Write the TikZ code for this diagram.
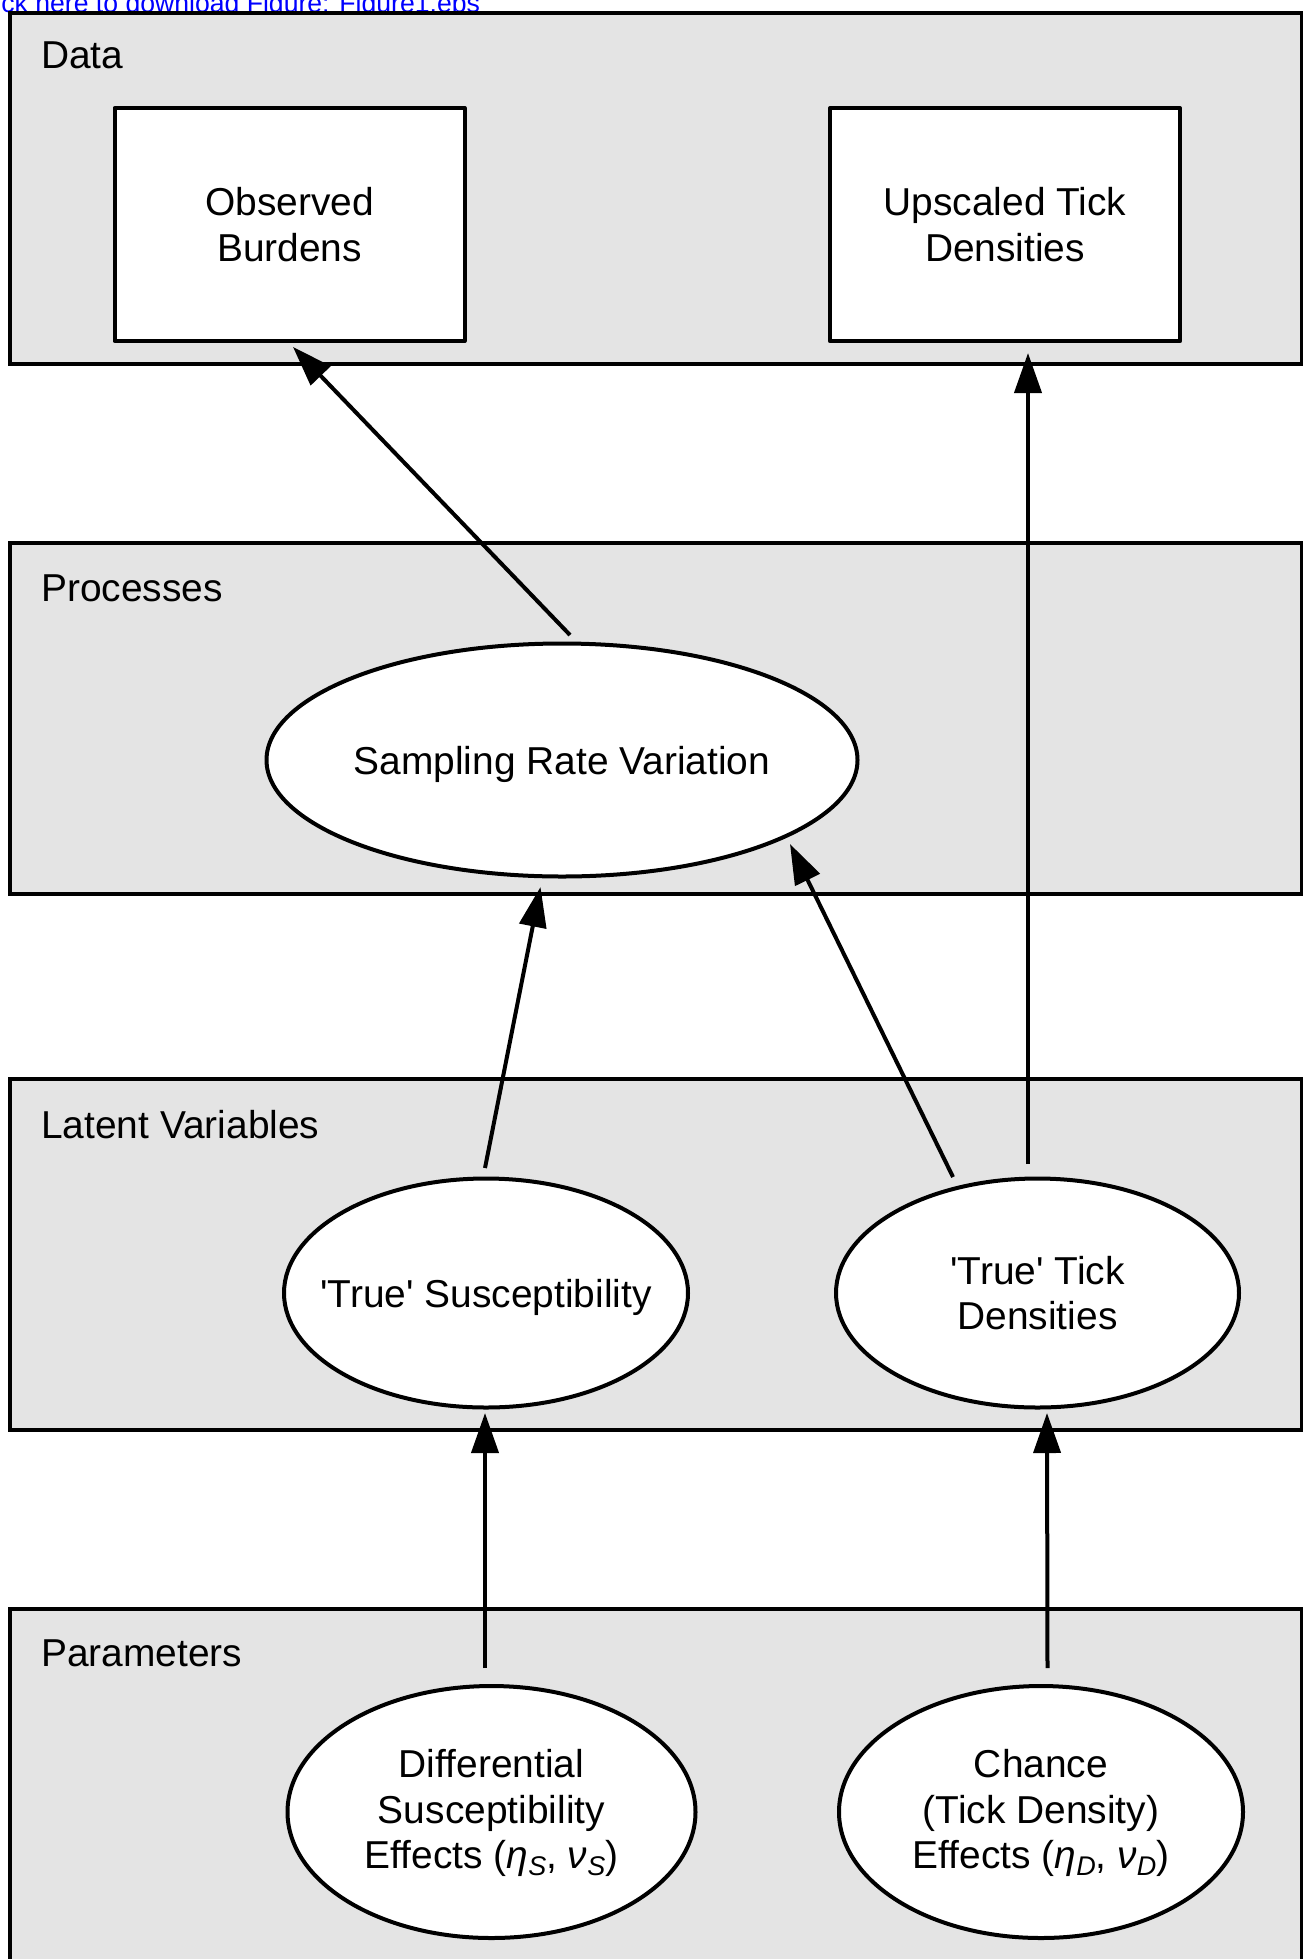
\documentclass[tikz,border=0pt]{standalone}
\usepackage{fontspec}
\setmainfont{Liberation Sans}
\usetikzlibrary{shapes.geometric,arrows.meta}
\definecolor{panelgray}{RGB}{228,228,228}
\definecolor{linkblue}{RGB}{0,0,255}
\newcommand{\diagfont}{\fontsize{38.9}{45.5}\selectfont}
\newcommand{\linkfont}{\fontsize{26.6}{30}\selectfont}
\newcommand{\sq}{\textquotesingle}
\newcommand{\lowsub}[1]{\raisebox{-7pt}{\fontsize{27}{30}\selectfont\itshape #1}}
\begin{document}
\begin{tikzpicture}[x=1pt,y=-1pt,
  panel/.style={draw=black,fill=panelgray,line width=4pt},
  plabel/.style={anchor=base west,inner sep=0pt,font=\diagfont},
  databox/.style={draw,fill=white,line width=4pt,line join=round,minimum width=350pt,minimum height=233pt,inner sep=0pt,align=center,font=\diagfont},
  ell/.style={draw,fill=white,ellipse,line width=4pt,inner sep=0pt},
  etext/.style={align=center,inner sep=0pt,font=\diagfont},
  arr/.style={line width=4pt,-{Triangle[length=40pt,width=27pt]}}
]
\useasboundingbox (0,0) rectangle (1303,1959);
\clip (0,0) rectangle (1303,1959);
\fill[white] (0,0) rectangle (1303,1959);

% link text
\node[anchor=base west,inner sep=0pt,font=\linkfont,text=linkblue] (link) at (1.2,12.5) {ck here to download Figure: Figure1.eps};

% panels
\draw[panel] (10,13) rectangle (1302,363.5);
\draw[panel] (10,543) rectangle (1302,894);
\draw[panel] (10,1079) rectangle (1302,1430);
\draw[panel] (10,1609) rectangle (1302,1985);

\node[plabel] (lData) at (41,69) {Data};
\node[plabel] (lProc) at (41,601) {Processes};
\node[plabel] (lLat) at (41,1138) {Latent Variables};
\node[plabel] (lPar) at (41,1666) {Parameters};

% data boxes
\node[databox] (obs) at (289.5,224.5) {Observed\\Burdens};
\node[databox] (upt) at (1005,224.7) {Upscaled Tick\\Densities};

% ellipses
\node[ell,minimum width=591pt,minimum height=233pt] (srv) at (562,760) {};
\node[etext] (srvt) at ([yshift=-4pt]srv.center) {Sampling Rate Variation};

\node[ell,minimum width=404pt,minimum height=229pt] (tsus) at (486,1293) {};
\node[etext] (tsust) at ([yshift=-4pt]tsus.center) {\sq True\sq{} Susceptibility};

\node[ell,minimum width=403pt,minimum height=229pt] (tden) at (1037.5,1293) {};
\node[etext] (tdent) at (tden) {\sq True\sq{} Tick\\Densities};

\node[ell,minimum width=408pt,minimum height=252pt] (dse) at (491.5,1812) {};
\node[etext] (dset) at ([yshift=-1pt]dse.center) {Differential\\Susceptibility\\Effects ({\itshape η}\lowsub{S}, {\itshape ν}\lowsub{S})};

\node[ell,minimum width=404pt,minimum height=252pt] (chn) at (1041,1812) {};
\node[etext] (chnt) at ([yshift=-1pt]chn.center) {Chance\\(Tick Density)\\Effects ({\itshape η}\lowsub{D}, {\itshape ν}\lowsub{D})};

% arrows
\draw[arr] ([xshift=8pt,yshift=6.5pt]srv.north) -- ([xshift=3.5pt,yshift=-4pt]obs.south);
\draw[arr] ([xshift=-9.5pt,yshift=12.5pt]tden.north) -- ([xshift=23pt,yshift=-9.8pt]upt.south);
\draw[arr] ([xshift=-84.5pt,yshift=-0.5pt]tden.north) -- ([xshift=228pt,yshift=-84pt]srv.center);
\draw[arr] ([xshift=-1pt,yshift=8.5pt]tsus.north) -- ([xshift=-21.5pt,yshift=-8.5pt]srv.south);
\draw[arr] ([xshift=-6.5pt,yshift=16pt]dse.north) -- ([xshift=-1pt,yshift=-3.5pt]tsus.south);
\draw[arr] ([xshift=6.5pt,yshift=16pt]chn.north) -- ([xshift=9.5pt,yshift=-3.5pt]tden.south);
\end{tikzpicture}
\end{document}
